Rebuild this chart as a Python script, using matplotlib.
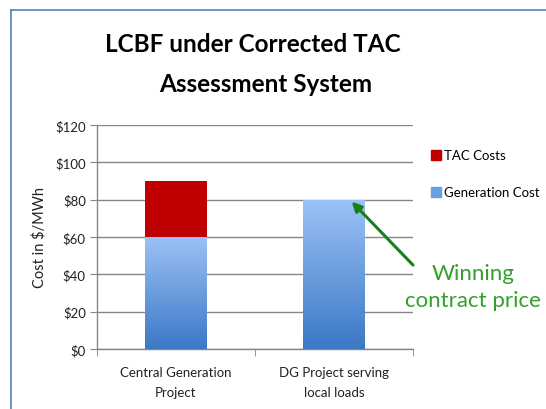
import matplotlib.pyplot as plt
import numpy as np
from matplotlib.lines import Line2D
from matplotlib.patches import Patch
from matplotlib.colors import LinearSegmentedColormap

plt.rcParams['font.family'] = ['Lato', 'DejaVu Sans']

# data
categories = ['Central Generation\nProject', 'DG Project serving\nlocal loads']
generation_cost = [60, 80]
tac_cost = [30, 0]
yticks = [0, 20, 40, 60, 80, 100, 120]

fig = plt.figure(figsize=(5.46, 4.10), dpi=100)
ax = fig.add_axes([97 / 546, 60 / 410, 316 / 546, 224 / 410])

x = np.arange(len(categories))
bar_w = 0.39

# gradient for generation bars
grad = np.linspace(0, 1, 256).reshape(-1, 1)
blue_cmap = LinearSegmentedColormap.from_list('gen', ['#3b78c6', '#9cc2f6'])

gen_bars = ax.bar(x, generation_cost, width=bar_w, color='none', edgecolor='none', zorder=3)
for b in gen_bars:
    im = ax.imshow(grad, cmap=blue_cmap, aspect='auto', origin='lower',
                   extent=[b.get_x(), b.get_x() + b.get_width(), 0, b.get_height()], zorder=3)
    im.set_clip_path(b)
ax.bar(x, tac_cost, width=bar_w, bottom=generation_cost, color='#c00000', zorder=3)

ax.set_xlim(-0.5, 1.5)
ax.set_ylim(0, 120)
ax.set_yticks(yticks)
ax.set_yticklabels(['$%d' % v for v in yticks], fontsize=9.5, color='#222222')
ax.set_xticks(x)
ax.set_xticklabels(categories, fontsize=9.5, color='#222222', linespacing=1.8)
ax.set_xticks([-0.5, 0.5, 1.5], minor=True)
ax.tick_params(axis='x', which='major', length=0, pad=12)
ax.tick_params(axis='x', which='minor', length=5, color='#868686', direction='out')
ax.tick_params(axis='y', length=5, color='#868686', direction='out', pad=3)
ax.grid(axis='y', color='#868686', linewidth=1, zorder=0)
for s in ['top', 'right']:
    ax.spines[s].set_visible(False)
for s in ['left', 'bottom']:
    ax.spines[s].set_color('#868686')
    ax.spines[s].set_linewidth(1)
ax.set_ylabel('Cost in $/MWh', fontsize=10.5, color='#222222', labelpad=6)

fig.text(253 / 546, 1 - 45 / 410, 'LCBF under Corrected TAC', ha='center', va='center',
         fontsize=17.5, fontweight='bold', color='black')
fig.text(266 / 546, 1 - 85 / 410, 'Assessment System', ha='center', va='center',
         fontsize=17.5, fontweight='bold', color='black')

handles = [Patch(color='#c00000'), Patch(color='#6a9fe2')]
ax.legend(handles, ['TAC Costs', 'Generation Cost'], loc='upper left',
          bbox_to_anchor=(1.04, 0.915), frameon=False, fontsize=9.5,
          handlelength=0.8, handleheight=0.8, handletextpad=0.2, labelspacing=1.9,
          borderaxespad=0)

ax.annotate('', xy=(1.1, 80), xytext=(1.006, 0.366), textcoords='axes fraction',
            arrowprops=dict(arrowstyle='-|>', color='#1a7f1a', lw=2.2, mutation_scale=14),
            annotation_clip=False, zorder=5)
ax.text(1.19, 0.28, 'Winning\ncontract price', transform=ax.transAxes, ha='center',
        va='center', fontsize=16, color='#33a02c', linespacing=1.45)

# frame border of the chart area
fig.add_artist(Line2D([11 / 546, 11 / 546], [0, 1 - 11 / 410], color='#4f81bd', lw=1.2))
fig.add_artist(Line2D([11 / 546, 1], [1 - 11 / 410, 1 - 11 / 410], color='#4f81bd', lw=1.2))

plt.savefig('out.png')
plt.close()
